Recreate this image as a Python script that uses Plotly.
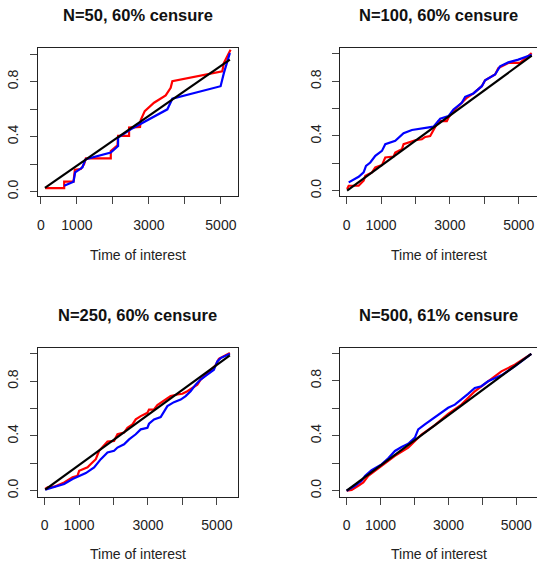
import plotly.graph_objects as go

W, H = 537, 563

titles = ["N=50, 60% censure", "N=100, 60% censure", "N=250, 60% censure", "N=500, 61% censure"]
x_label = "Time of interest"
x_tick_vals = [0, 1000, 2000, 3000, 4000, 5000]
x_tick_text = ["0", "1000", "", "3000", "", "5000"]
y_tick_vals = [0.0, 0.2, 0.4, 0.6, 0.8, 1.0]
y_tick_text = ["0.0", "", "0.4", "", "0.8", ""]

# Panel 1 : N=50
p1_black_x = [111, 5250]
p1_black_y = [0.027, 0.959]
p1_red_x = [120, 646, 646, 906, 943, 1109, 1201, 1248, 1941, 1941, 2127, 2144, 2449, 2449, 2754, 2773, 2884, 3143, 3466, 3605, 3651, 5038, 5084, 5205, 5269]
p1_red_y = [0.025, 0.025, 0.072, 0.072, 0.159, 0.164, 0.200, 0.241, 0.241, 0.296, 0.337, 0.405, 0.405, 0.465, 0.470, 0.520, 0.585, 0.646, 0.699, 0.754, 0.802, 0.874, 0.935, 0.995, 1.031]
p1_blue_x = [646, 906, 952, 1156, 1202, 1248, 1941, 2144, 2144, 2496, 3513, 3651, 4992, 5084, 5250]
p1_blue_y = [0.043, 0.072, 0.140, 0.176, 0.212, 0.236, 0.284, 0.332, 0.393, 0.453, 0.598, 0.675, 0.766, 0.863, 1.007]

# Panel 2 : N=100
p2_black_x = [12, 5377]
p2_black_y = [0.0, 0.987]
p2_red_x = [12, 59, 348, 493, 542, 736, 832, 1025, 1122, 1364, 1412, 1605, 1654, 1993, 2186, 2283, 2427, 2573, 2669, 2911, 2958, 3103, 3345, 3491, 3683, 3927, 4023, 4313, 4409, 4698, 5038, 5377]
p2_red_y = [0.012, 0.036, 0.036, 0.073, 0.109, 0.134, 0.170, 0.187, 0.243, 0.250, 0.279, 0.303, 0.340, 0.369, 0.376, 0.393, 0.400, 0.461, 0.509, 0.509, 0.534, 0.582, 0.643, 0.679, 0.711, 0.764, 0.807, 0.849, 0.897, 0.934, 0.934, 1.006]
p2_blue_x = [59, 348, 493, 562, 687, 832, 1025, 1122, 1412, 1509, 1654, 1896, 2523, 2718, 2958, 3103, 3345, 3443, 3683, 3927, 4023, 4313, 4457, 4698, 4988, 5377]
p2_blue_y = [0.061, 0.102, 0.134, 0.182, 0.206, 0.255, 0.291, 0.340, 0.364, 0.388, 0.420, 0.444, 0.468, 0.526, 0.545, 0.594, 0.643, 0.686, 0.711, 0.764, 0.807, 0.849, 0.909, 0.938, 0.958, 0.994]

# Panel 3 : N=250
p3_black_x = [17, 5377]
p3_black_y = [0.007, 0.989]
p3_red_x = [17, 87, 280, 568, 811, 956, 1003, 1246, 1341, 1486, 1582, 1727, 1825, 2016, 2115, 2306, 2404, 2549, 2645, 2790, 2984, 3030, 3175, 3273, 3465, 3659, 3853, 3998, 4143, 4432, 4528, 4818, 4963, 5058, 5186, 5377]
p3_red_y = [0.012, 0.024, 0.029, 0.060, 0.097, 0.109, 0.145, 0.170, 0.194, 0.230, 0.291, 0.327, 0.359, 0.364, 0.412, 0.424, 0.460, 0.484, 0.521, 0.545, 0.569, 0.593, 0.593, 0.625, 0.659, 0.691, 0.703, 0.708, 0.727, 0.775, 0.812, 0.884, 0.916, 0.964, 0.982, 1.006]
p3_blue_x = [17, 280, 568, 811, 1003, 1197, 1437, 1631, 1825, 2016, 2115, 2306, 2451, 2645, 2790, 2984, 3030, 3175, 3369, 3465, 3563, 3754, 3949, 4093, 4238, 4383, 4528, 4722, 4913, 5012, 5108, 5377]
p3_blue_y = [0.007, 0.024, 0.048, 0.085, 0.109, 0.128, 0.170, 0.230, 0.279, 0.291, 0.315, 0.339, 0.375, 0.412, 0.448, 0.460, 0.489, 0.521, 0.538, 0.582, 0.618, 0.647, 0.666, 0.691, 0.727, 0.775, 0.812, 0.848, 0.884, 0.945, 0.969, 1.001]

# Panel 4 : N=500
p4_black_x = [0, 5441]
p4_black_y = [0.0, 0.995]
p4_red_x = [0, 147, 344, 491, 638, 1029, 1423, 1815, 2011, 2206, 2600, 2991, 3382, 3776, 4167, 4559, 4953, 5441]
p4_red_y = [0.0, 0.005, 0.036, 0.060, 0.108, 0.181, 0.253, 0.313, 0.362, 0.409, 0.477, 0.559, 0.626, 0.723, 0.796, 0.868, 0.916, 0.995]
p4_blue_x = [0, 245, 441, 540, 735, 1029, 1226, 1423, 1618, 1815, 2011, 2109, 2305, 2500, 2697, 2991, 3188, 3382, 3579, 3776, 3970, 4167, 4559, 4953, 5441]
p4_blue_y = [0.0, 0.036, 0.072, 0.108, 0.149, 0.192, 0.236, 0.289, 0.318, 0.342, 0.386, 0.446, 0.482, 0.518, 0.554, 0.603, 0.626, 0.663, 0.704, 0.747, 0.760, 0.796, 0.839, 0.904, 0.995]

panels = [
    (p1_red_x, p1_red_y, p1_blue_x, p1_blue_y, p1_black_x, p1_black_y),
    (p2_red_x, p2_red_y, p2_blue_x, p2_blue_y, p2_black_x, p2_black_y),
    (p3_red_x, p3_red_y, p3_blue_x, p3_blue_y, p3_black_x, p3_black_y),
    (p4_red_x, p4_red_y, p4_blue_x, p4_blue_y, p4_black_x, p4_black_y),
]

# layout geometry (pixels)
boxes = [  # left, right, top, bottom
    (37, 237, 48, 197.5),
    (340, 537, 48, 197.5),
    (37, 237, 350, 499.3),
    (340, 537, 350, 499.3),
]
x_ranges = [(-83, 5463), (-183, 5531), (-194, 5600), (-185, 5609)]
y_ranges = [(-0.035, 1.0455), (-0.042, 1.045), (-0.044, 1.042), (-0.043, 1.037)]
title_pos = [(137, 15.5), (438.7, 15.5), (137, 316.7), (438.7, 316.7)]
xlab_pos = [(137, 256), (438.7, 256.5), (137, 556.5), (438.7, 556.5)]

FONT = "Liberation Sans, Arial, Helvetica, sans-serif"

fig = go.Figure()
annotations = []
shapes = []
for i, (rx, ry, bx, by, kx, ky) in enumerate(panels):
    n = i + 1
    xa = "x" if n == 1 else f"x{n}"
    ya = "y" if n == 1 else f"y{n}"
    fig.add_trace(go.Scatter(x=rx, y=ry, mode="lines", line=dict(color="#ff0000", width=2.2),
                             xaxis=xa, yaxis=ya, showlegend=False, hoverinfo="skip"))
    fig.add_trace(go.Scatter(x=bx, y=by, mode="lines", line=dict(color="#0000ff", width=2.2),
                             xaxis=xa, yaxis=ya, showlegend=False, hoverinfo="skip"))
    fig.add_trace(go.Scatter(x=kx, y=ky, mode="lines", line=dict(color="#000000", width=2.2),
                             xaxis=xa, yaxis=ya, showlegend=False, hoverinfo="skip"))
    l, r, t, b = boxes[i]
    right_col = (n % 2 == 0)
    xkey = "xaxis" if n == 1 else f"xaxis{n}"
    ykey = "yaxis" if n == 1 else f"yaxis{n}"
    fig.layout[xkey] = dict(
        domain=[l / W, r / W], range=list(x_ranges[i]), anchor=ya,
        showgrid=False, zeroline=False, showline=True, linecolor="#222", linewidth=1,
        mirror=True, ticks="outside", ticklen=7, tickwidth=1, tickcolor="#444",
        tickvals=x_tick_vals, ticktext=x_tick_text, ticklabelstandoff=9,
        tickfont=dict(family=FONT, size=14, color="#222"), fixedrange=True,
    )
    fig.layout[ykey] = dict(
        domain=[1 - b / H, 1 - t / H], range=list(y_ranges[i]), anchor=xa,
        showgrid=False, zeroline=False, showline=True, linecolor="#222", linewidth=1,
        mirror=(not right_col), ticks="outside", ticklen=7, tickwidth=1, tickcolor="#444",
        tickvals=y_tick_vals, ticktext=y_tick_text, tickangle=-90, ticklabelstandoff=6,
        tickfont=dict(family=FONT, size=14, color="#222"), fixedrange=True,
    )
    tx, ty = title_pos[i]
    annotations.append(dict(text=f"<b>{titles[i]}</b>", x=tx / W, y=1 - ty / H, xref="paper", yref="paper",
                            xanchor="center", yanchor="middle", showarrow=False,
                            font=dict(family=FONT, size=16.5, color="#111")))
    lx, ly = xlab_pos[i]
    annotations.append(dict(text=x_label, x=lx / W, y=1 - ly / H, xref="paper", yref="paper",
                            xanchor="center", yanchor="middle", showarrow=False,
                            font=dict(family=FONT, size=14, color="#222")))

fig.update_layout(
    width=W, height=H, margin=dict(l=0, r=0, t=0, b=0),
    paper_bgcolor="white", plot_bgcolor="white",
    annotations=annotations, showlegend=False,
)
fig.write_html("out.html", config={"displayModeBar": False})
